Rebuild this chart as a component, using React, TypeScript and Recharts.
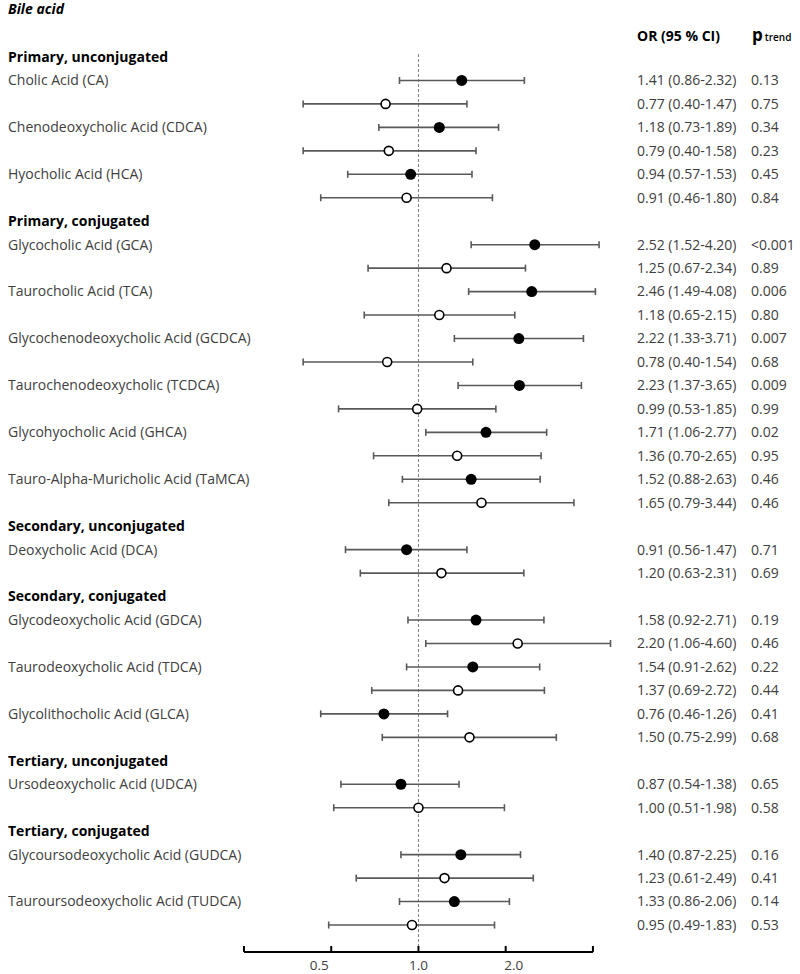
import React from 'react'
import { ScatterChart, Scatter, XAxis, YAxis, ErrorBar, ReferenceLine } from 'recharts'

const GROUPS = [
  'Primary, unconjugated',
  'Primary, conjugated',
  'Secondary, unconjugated',
  'Secondary, conjugated',
  'Tertiary, unconjugated',
  'Tertiary, conjugated',
]
const GROUP_SIZES = [3, 6, 1, 3, 1, 2]
const ACIDS = [
  'Cholic Acid (CA)',
  'Chenodeoxycholic Acid (CDCA)',
  'Hyocholic Acid (HCA)',
  'Glycocholic Acid (GCA)',
  'Taurocholic Acid (TCA)',
  'Glycochenodeoxycholic Acid (GCDCA)',
  'Taurochenodeoxycholic (TCDCA)',
  'Glycohyocholic Acid (GHCA)',
  'Tauro-Alpha-Muricholic Acid (TaMCA)',
  'Deoxycholic Acid (DCA)',
  'Glycodeoxycholic Acid (GDCA)',
  'Taurodeoxycholic Acid (TDCA)',
  'Glycolithocholic Acid (GLCA)',
  'Ursodeoxycholic Acid (UDCA)',
  'Glycoursodeoxycholic Acid (GUDCA)',
  'Tauroursodeoxycholic Acid (TUDCA)',
]

// filled markers (first line of each acid)
const OR_FILLED = [1.41, 1.18, 0.94, 2.52, 2.46, 2.22, 2.23, 1.71, 1.52, 0.91, 1.58, 1.54, 0.76, 0.87, 1.40, 1.33]
const LO_FILLED = [0.86, 0.73, 0.57, 1.52, 1.49, 1.33, 1.37, 1.06, 0.88, 0.56, 0.92, 0.91, 0.46, 0.54, 0.87, 0.86]
const HI_FILLED = [2.32, 1.89, 1.53, 4.20, 4.08, 3.71, 3.65, 2.77, 2.63, 1.47, 2.71, 2.62, 1.26, 1.38, 2.25, 2.06]
const P_FILLED = ['0.13', '0.34', '0.45', '<0.001', '0.006', '0.007', '0.009', '0.02', '0.46', '0.71', '0.19', '0.22', '0.41', '0.65', '0.16', '0.14']

// open markers (second line of each acid)
const OR_OPEN = [0.77, 0.79, 0.91, 1.25, 1.18, 0.78, 0.99, 1.36, 1.65, 1.20, 2.20, 1.37, 1.50, 1.00, 1.23, 0.95]
const LO_OPEN = [0.40, 0.40, 0.46, 0.67, 0.65, 0.40, 0.53, 0.70, 0.79, 0.63, 1.06, 0.69, 0.75, 0.51, 0.61, 0.49]
const HI_OPEN = [1.47, 1.58, 1.80, 2.34, 2.15, 1.54, 1.85, 2.65, 3.44, 2.31, 4.60, 2.72, 2.99, 1.98, 2.49, 1.83]
const P_OPEN = ['0.75', '0.23', '0.84', '0.89', '0.80', '0.68', '0.99', '0.95', '0.46', '0.69', '0.46', '0.44', '0.68', '0.58', '0.41', '0.53']

const X_TICKS = [0.25, 0.5, 1, 2, 4]
const X_LABELS: Record<number, string> = { 0.5: '0.5', 1: '1.0', 2: '2.0' }

const FONT = '"Open Sans", "Liberation Sans", sans-serif'
const TEXT = '#404040'
const Y_MIN = -0.213
const Y_MAX = 38.15

type Pt = { row: number; or: number; err: [number, number]; ci: string; p: string }

const fmt = (v: number) => v.toFixed(2)

const labels: { row: number; text: string; bold: boolean }[] = []
const filled: Pt[] = []
const open: Pt[] = []
{
  let row = 0
  let k = 0
  GROUPS.forEach((g, gi) => {
    labels.push({ row, text: g, bold: true })
    row++
    for (let j = 0; j < GROUP_SIZES[gi]; j++, k++) {
      labels.push({ row, text: ACIDS[k], bold: false })
      filled.push({
        row,
        or: OR_FILLED[k],
        err: [OR_FILLED[k] - LO_FILLED[k], HI_FILLED[k] - OR_FILLED[k]],
        ci: `${fmt(OR_FILLED[k])} (${fmt(LO_FILLED[k])}-${fmt(HI_FILLED[k])})`,
        p: P_FILLED[k],
      })
      row++
      open.push({
        row,
        or: OR_OPEN[k],
        err: [OR_OPEN[k] - LO_OPEN[k], HI_OPEN[k] - OR_OPEN[k]],
        ci: `${fmt(OR_OPEN[k])} (${fmt(LO_OPEN[k])}-${fmt(HI_OPEN[k])})`,
        p: P_OPEN[k],
      })
      row++
    }
  })
}
const byRow = new Map<number, Pt>([...filled, ...open].map(d => [d.row, d]))
const labelByRow = new Map(labels.map(l => [l.row, l]))
const allRows = Array.from({ length: labels.length + open.length }, (_, i) => i)

// one tick per row: name on the left, OR (95% CI) and p trend on the right
function RowTick({ y, payload }: any) {
  const l = labelByRow.get(payload.value)
  const d = byRow.get(payload.value)
  return (
    <g fontFamily={FONT} fontSize={14}>
      {l && (
        <text x={8} y={y} dy="0.35em" fontWeight={l.bold ? 700 : 400} fill={l.bold ? '#000' : TEXT}>
          {l.text}
        </text>
      )}
      {d && <text x={637} y={y} dy="0.35em" fill={TEXT}>{d.ci}</text>}
      {d && <text x={751} y={y} dy="0.35em" fill={TEXT}>{d.p}</text>}
    </g>
  )
}

function XTick({ x, y, payload }: any) {
  const label = X_LABELS[payload.value]
  const dx = payload.value === 0.5 ? -12 : payload.value === 2 ? 8 : 0
  return (
    <g>
      <line x1={x} x2={x} y1={y - 6} y2={y} stroke="#000" strokeWidth={2} />
      {label && (
        <text x={x + dx} y={y + 13} dy="0.35em" textAnchor="middle"
          fontFamily={FONT} fontSize={13.5} fill={TEXT}>
          {label}
        </text>
      )}
    </g>
  )
}

const filledDot = (p: any) => <circle cx={p.cx} cy={p.cy} r={5.5} fill="#000" />
const openDot = (p: any) => <circle cx={p.cx} cy={p.cy} r={4.5} fill="#fff" stroke="#000" strokeWidth={1.6} />

export default function App() {
  return (
    <div style={{ position: 'absolute', left: 0, top: 0, width: 800, height: 974, background: '#fff' }}>
      <div style={{ position: 'absolute', left: 8, top: -1, lineHeight: '20px', fontFamily: FONT, fontSize: 14, fontWeight: 700, fontStyle: 'italic', color: '#000' }}>
        Bile acid
      </div>
      <div style={{ position: 'absolute', left: 637, top: 26, lineHeight: '20px', fontFamily: FONT, fontSize: 14, fontWeight: 700, color: '#000' }}>
        OR (95 % CI)
      </div>
      <div style={{ position: 'absolute', left: 752, top: 24, lineHeight: '22px', fontFamily: FONT, color: '#000', whiteSpace: 'nowrap' }}>
        <span style={{ fontSize: 17, fontWeight: 700 }}>p</span>
        <span style={{ fontSize: 10, fontWeight: 600, marginLeft: 2 }}>trend</span>
      </div>
      <div style={{ position: 'absolute', left: 0, top: 0 }}>
        <ScatterChart width={800} height={974} margin={{ top: 52, right: 179, bottom: 0, left: 0 }}>
          <XAxis dataKey="or" type="number" scale="log" domain={[0.25, 5]} ticks={X_TICKS}
            axisLine={false} tickLine={false} tickSize={0} tickMargin={0} height={22}
            interval={0} tick={<XTick />} />
          <YAxis dataKey="row" type="number" domain={[Y_MIN, Y_MAX]} reversed
            ticks={allRows} interval={0} width={244} axisLine={false} tickLine={false}
            tick={<RowTick />} />
          <ReferenceLine x={1} stroke="#808080" strokeDasharray="3 2" strokeWidth={1} />
          <ReferenceLine segment={[{ x: 0.25, y: Y_MAX }, { x: 4, y: Y_MAX }]}
            stroke="#000" strokeWidth={2} />
          <Scatter data={filled} dataKey="or" shape={filledDot} isAnimationActive={false}>
            <ErrorBar dataKey="err" direction="x" width={3.5} stroke="#595959" strokeWidth={1.6} isAnimationActive={false} />
          </Scatter>
          <Scatter data={open} dataKey="or" shape={openDot} isAnimationActive={false}>
            <ErrorBar dataKey="err" direction="x" width={3.5} stroke="#595959" strokeWidth={1.6} isAnimationActive={false} />
          </Scatter>
        </ScatterChart>
      </div>
    </div>
  )
}
